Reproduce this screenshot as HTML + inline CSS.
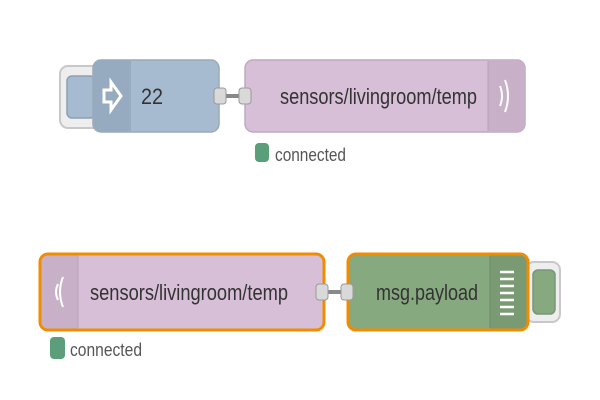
<!DOCTYPE html>
<html><head><meta charset="utf-8"><style>
html,body{margin:0;padding:0;background:#fff;width:600px;height:400px;overflow:hidden}
text{font-family:"Liberation Sans",sans-serif;fill:#333}
</style></head><body>
<svg width="600" height="400" viewBox="0 0 600 400">
<!-- Top row -->
<rect x="60" y="66" width="40" height="62" rx="8" fill="#eeeeee" stroke="#c8c8c8" stroke-width="2"/>
<rect x="67" y="76" width="28" height="42" rx="5" fill="#a6bbcf" stroke="#8e9fb0" stroke-width="1.5"/>
<rect x="93" y="60" width="126" height="72" rx="8" fill="#a6bbcf" stroke="#9aa9b8" stroke-width="1.5"/>
<path d="M101 60 h28 v72 h-28 a8 8 0 0 1 -8 -8 v-56 a8 8 0 0 1 8 -8z" fill="#97abc0"/>
<line x1="130" y1="61" x2="130" y2="131" stroke="#8a9cb0" stroke-width="1"/>
<path d="M104 90 h7 v-8 l10 14 l-10 14 v-8 h-7z" fill="none" stroke="#fff" stroke-width="3"/>
<text x="141" y="104" font-size="22" textLength="22" lengthAdjust="spacingAndGlyphs">22</text>
<rect x="245" y="60" width="280" height="72" rx="8" fill="#d8bfd8" stroke="#bfa9bf" stroke-width="1.5"/>
<path d="M488 60 h29 a8 8 0 0 1 8 8 v56 a8 8 0 0 1 -8 8 h-29z" fill="#c9b0c9"/>
<line x1="488" y1="61" x2="488" y2="131" stroke="#b9a0b9" stroke-width="1"/>
<path d="M500 86 q4 10 0 20 M505 80 q6 16 0 32" fill="none" stroke="#fff" stroke-width="2"/>
<text x="280" y="104" font-size="22" textLength="197" lengthAdjust="spacingAndGlyphs">sensors/livingroom/temp</text>
<line x1="224" y1="96" x2="240" y2="96" stroke="#888" stroke-width="4"/>
<rect x="214" y="88" width="12" height="16" rx="3" fill="#d9d9d9" stroke="#999" stroke-width="1"/>
<rect x="239" y="88" width="12" height="16" rx="3" fill="#d9d9d9" stroke="#999" stroke-width="1"/>
<rect x="255" y="143" width="14" height="19" rx="4" fill="#5a9e7a"/>
<text x="275" y="161" font-size="18" style="fill:#555" textLength="71" lengthAdjust="spacingAndGlyphs">connected</text>

<!-- Bottom row -->
<rect x="40" y="254" width="284" height="76" rx="8" fill="#d8bfd8" stroke="#f08c00" stroke-width="3"/>
<path d="M48 255.5 h30 v73 h-30 a6.5 6.5 0 0 1 -6.5 -6.5 v-60 a6.5 6.5 0 0 1 6.5 -6.5z" fill="#c9b0c9"/>
<line x1="78" y1="256" x2="78" y2="328" stroke="#b9a0b9" stroke-width="1"/>
<path d="M58 284 q-4 8 0 16 M63 277 q-6 15 0 30" fill="none" stroke="#fff" stroke-width="2"/>
<text x="90" y="300" font-size="22" textLength="198" lengthAdjust="spacingAndGlyphs">sensors/livingroom/temp</text>
<rect x="526" y="262" width="34" height="60" rx="8" fill="#eeeeee" stroke="#c8c8c8" stroke-width="2"/>
<rect x="533" y="270" width="22" height="44" rx="5" fill="#87a980" stroke="#78957a" stroke-width="1.5"/>
<rect x="348" y="254" width="180" height="76" rx="8" fill="#87a980" stroke="#f08c00" stroke-width="3"/>
<path d="M490 255.5 h30 a6.5 6.5 0 0 1 6.5 6.5 v60 a6.5 6.5 0 0 1 -6.5 6.5 h-30z" fill="#7a9a74"/>
<line x1="490" y1="256" x2="490" y2="328" stroke="#6f8d6a" stroke-width="1"/>
<g stroke="#fff" stroke-width="2.5">
<line x1="500" y1="272" x2="514" y2="272"/><line x1="500" y1="279" x2="514" y2="279"/>
<line x1="500" y1="286" x2="514" y2="286"/><line x1="500" y1="293" x2="514" y2="293"/>
<line x1="500" y1="300" x2="514" y2="300"/><line x1="500" y1="307" x2="514" y2="307"/>
<line x1="500" y1="314" x2="514" y2="314"/></g>
<text x="376" y="300" font-size="22" textLength="102" lengthAdjust="spacingAndGlyphs">msg.payload</text>
<line x1="326" y1="292" x2="342" y2="292" stroke="#888" stroke-width="4"/>
<rect x="316" y="284" width="12" height="16" rx="3" fill="#d9d9d9" stroke="#999" stroke-width="1"/>
<rect x="341" y="284" width="12" height="16" rx="3" fill="#d9d9d9" stroke="#999" stroke-width="1"/>
<rect x="50" y="337" width="15" height="22" rx="4" fill="#5a9e7a"/>
<text x="70" y="356" font-size="18" style="fill:#555" textLength="72" lengthAdjust="spacingAndGlyphs">connected</text>
</svg>
</body></html>
